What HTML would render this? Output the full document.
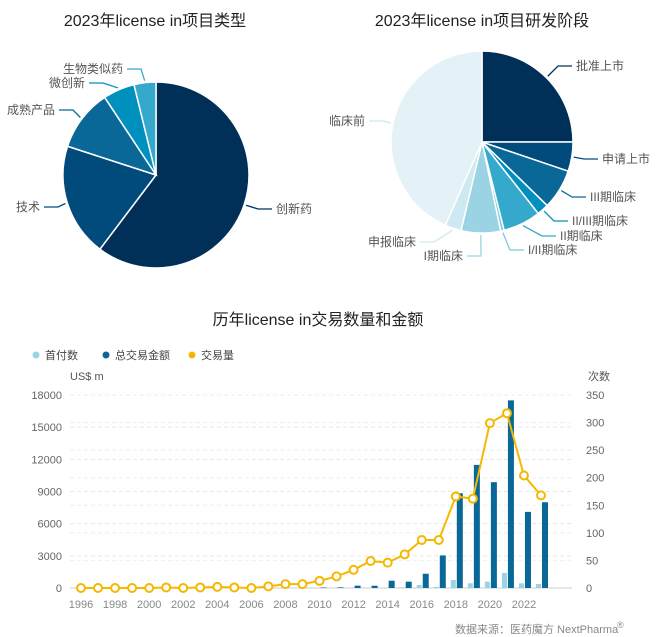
<!DOCTYPE html>
<html><head><meta charset="utf-8"><style>
html,body{margin:0;padding:0;background:#fff;}
svg{display:block;font-family:"Liberation Sans","Noto Sans CJK SC",sans-serif;}
</style></head><body>
<svg id="c" width="661" height="637"></svg>
<script>
// ---- Data ----
const typeCats=['创新药','技术','成熟产品','微创新','生物类似药'];
const typeVals=[60.3,19.7,10.7,5.5,3.8];
const stageCats=['批准上市','申请上市','III期临床','II/III期临床','II期临床','I/II期临床','I期临床','申报临床','临床前'];
const stageVals=[25,5.2,7.1,2.1,6.7,0.6,7,2.9,43.4];
const years=[1996,1997,1998,1999,2000,2001,2002,2003,2004,2005,2006,2007,2008,2009,2010,2011,2012,2013,2014,2015,2016,2017,2018,2019,2020,2021,2022,2023];
const upfront=[0,0,0,0,0,0,0,0,0,0,0,0,0,0,30,0,0,0,30,60,280,100,745,435,590,1400,435,370];
const totalAmt=[0,0,0,0,0,0,0,0,0,0,0,0,0,0,50,60,217,210,680,590,1330,3040,8840,11480,9870,17500,7100,8000];
const dealCount=[0,0,0,0,0,1,0,1,2,1,0,3,7,7,13,21,33,49,46,61,87,87,166,162,299,317,204,168];
const leftTicks=[0,3000,6000,9000,12000,15000,18000];
const rightTicks=[0,50,100,150,200,250,300,350];
const xTickYears=[1996,1998,2000,2002,2004,2006,2008,2010,2012,2014,2016,2018,2020,2022];

const NS='http://www.w3.org/2000/svg';
const svg=document.getElementById('c');
function mk(t,a,p){const e=document.createElementNS(NS,t);for(const k in a)e.setAttribute(k,a[k]);(p||svg).appendChild(e);return e;}
function txt(s,x,y,a,p){const e=mk('text',a,p);e.setAttribute('x',x);e.setAttribute('y',y);e.textContent=s;return e;}

let t;
t=txt('2023年license in项目类型',155,26,{'font-size':16,'text-anchor':'middle',fill:'#222'});


t=txt('2023年license in项目研发阶段',482,26,{'font-size':16,'text-anchor':'middle',fill:'#222'});


t=txt('历年license in交易数量和金额',318,325,{'font-size':16,'text-anchor':'middle',fill:'#222'});



function pie(cx,cy,r,cats,vals,cols,labels,name){
  const g=mk('g',{});
  
  
  const tot=vals.reduce((a,b)=>a+b,0);let a0=0;
  vals.forEach((v,i)=>{
    const a1=a0+v/tot*Math.PI*2;
    const p=(a)=>[cx+r*Math.sin(a),cy-r*Math.cos(a)];
    const [x0,y0]=p(a0),[x1,y1]=p(a1);
    const s=mk('path',{d:`M${cx},${cy}L${x0},${y0}A${r},${r} 0 ${a1-a0>Math.PI?1:0} 1 ${x1},${y1}Z`,fill:cols[i],stroke:'#fff','stroke-width':1.5},g);
    
    
    const am=(a0+a1)/2;const [ex,ey]=[cx+(r+2)*Math.sin(am),cy-(r+2)*Math.cos(am)];
    const L=labels[i];const right=L[0]>cx;
    const elx=right?L[0]-18:L[0]+18;
    mk('polyline',{points:`${ex},${ey} ${elx},${L[1]} ${right?L[0]-4:L[0]+4},${L[1]}`,fill:'none',stroke:cols[i]==='#e4f2f8'?'#cfe6f0':cols[i],'stroke-width':1.3},g);
    const tt=txt(cats[i],L[0],L[1]+4,{'font-size':12,fill:'#555','text-anchor':right?'start':'end'},g);
    
    
    a0=a1;
  });
}
pie(156,175,93,typeCats,typeVals,['#003057','#004a7c','#096898','#0090bd','#35a9cc'],
  [[276,209],[40,207],[55,110],[85,83],[123,69]],'type-pie');
pie(482,142,91,stageCats,stageVals,['#003057','#004a7c','#096898','#0090bd','#35a9cc','#7fc7dc','#9ad3e3','#cde9f2','#e4f2f8'],
  [[576,66],[602,159],[590,197],[572,221],[560,236],[528,250],[463,256],[416,242],[365,121]],'stage-pie');

const X0=81,X1=541,YB=588,YT=395;
const xs=(yr)=>X0+(yr-1996)*(X1-X0)/27;
const yl=(v)=>YB-v/18000*(YB-YT);
const yr=(v)=>YB-v/350*(YB-YT);
const bg=mk('g',{});


leftTicks.forEach((v)=>{
  const y=yl(v);
  if(v>0)mk('line',{x1:70,x2:572,y1:y,y2:y,stroke:'#e6e6e6','stroke-dasharray':'4,3'},bg);
  const tl=txt(v,62,y+4,{'font-size':11,fill:'#666','text-anchor':'end'},bg);
  
  
});
rightTicks.forEach(v=>{
  const y=yr(v);
  if(v>0)mk('line',{x1:70,x2:572,y1:y,y2:y,stroke:'#eeeeee','stroke-dasharray':'4,3'},bg);
  const tl=txt(v,586,y+4,{'font-size':11,fill:'#666'},bg);
  
  
});
mk('line',{x1:70,x2:572,y1:YB,y2:YB,stroke:'#ccc'},bg);
xTickYears.forEach(v=>{
  const tl=txt(v,xs(v),608,{'font-size':11,fill:'#888','text-anchor':'middle'},bg);
  
  
});
t=txt('US$ m',70,380,{'font-size':11,fill:'#555'},bg);


t=txt('次数',588,380,{'font-size':11,fill:'#555'},bg);


years.forEach((y,i)=>{
  const cx=xs(y);
  if(upfront[i]>0){const b=mk('rect',{x:cx-5,y:yl(upfront[i]),width:5,height:YB-yl(upfront[i]),fill:'#9ad3e3'},bg);
  
  }
  if(totalAmt[i]>0){const b=mk('rect',{x:cx+1,y:yl(totalAmt[i]),width:6,height:YB-yl(totalAmt[i]),fill:'#096898'},bg);
  
  }
});
const pl=mk('polyline',{points:years.map((y,i)=>xs(y)+','+yr(dealCount[i])).join(' '),fill:'none',stroke:'#f5b800','stroke-width':2},bg);


years.forEach((y,i)=>{
  const c=mk('circle',{cx:xs(y),cy:yr(dealCount[i]),r:4,fill:'#fff',stroke:'#f5b800','stroke-width':2},bg);
  
  
});
const lg=mk('g',{});


[['首付数','#9ad3e3',36],['总交易金额','#096898',106],['交易量','#f5b800',192]].forEach(([n,c,x])=>{
  const e=mk('circle',{cx:x,cy:355,r:3.5,fill:c},lg);
  
  
  txt(n,x+9,359,{'font-size':11,fill:'#444'},lg);
});
t=txt('数据来源：医药魔方 NextPharma',455,633,{'font-size':11,fill:'#888'});


txt('®',617,628,{'font-size':9,fill:'#888'});
</script>
</body></html>
